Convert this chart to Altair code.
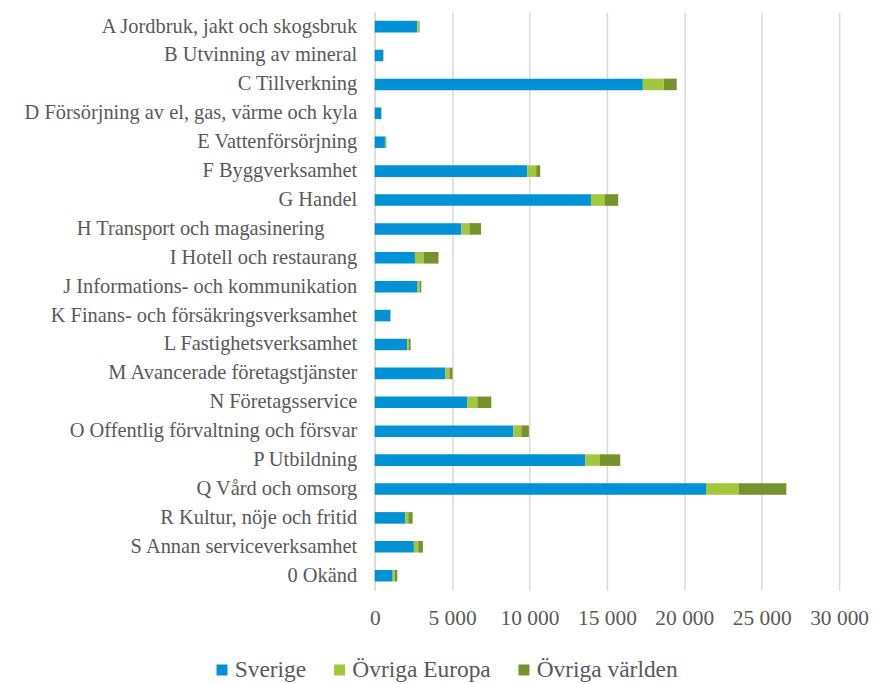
import altair as alt
import pandas as pd

categories = [
    "A Jordbruk, jakt och skogsbruk",
    "B Utvinning av mineral",
    "C Tillverkning",
    "D Försörjning av el, gas, värme och kyla",
    "E Vattenförsörjning",
    "F Byggverksamhet",
    "G Handel",
    "H Transport och magasinering",
    "I Hotell och restaurang",
    "J Informations- och kommunikation",
    "K Finans- och försäkringsverksamhet",
    "L Fastighetsverksamhet",
    "M Avancerade företagstjänster",
    "N Företagsservice",
    "O Offentlig förvaltning och försvar",
    "P Utbildning",
    "Q Vård och omsorg",
    "R Kultur, nöje och fritid",
    "S Annan serviceverksamhet",
    "0 Okänd",
]

sverige = [2750, 540, 17320, 410, 660, 9850, 13970, 5600, 2600, 2770,
           990, 2100, 4570, 5990, 8950, 13610, 21400, 1980, 2530, 1160]
ovriga_europa = [120, 20, 1350, 20, 60, 580, 900, 520, 560, 150,
                 30, 110, 260, 640, 520, 940, 2100, 190, 280, 130]
ovriga_varlden = [30, 15, 840, 15, 30, 260, 860, 750, 960, 90,
                  20, 110, 190, 900, 490, 1310, 3090, 280, 300, 170]

series = ["Sverige", "Övriga Europa", "Övriga världen"]
colors = ["#0092D5", "#A2C73B", "#76922C"]
tick_values = [0, 5000, 10000, 15000, 20000, 25000, 30000]

rows = []
for i, c in enumerate(categories):
    for j, (s, vals) in enumerate(zip(series, [sverige, ovriga_europa, ovriga_varlden])):
        rows.append({"kategori": c, "serie": s, "ordning": j, "antal": vals[i]})
df = pd.DataFrame(rows)

font = "Liberation Serif"

chart = alt.Chart(df).mark_bar().encode(
    y=alt.Y("kategori:N", sort=categories,
            scale=alt.Scale(paddingInner=0.6, paddingOuter=0.3),
            axis=alt.Axis(title=None, ticks=False, domain=True, domainColor="#d9d9d9",
                          domainWidth=1.5, labelFont=font, labelFontSize=20.5,
                          labelColor="#595959",
                          labelPadding={"condition": {"test": "indexof(datum.value, 'H Transport') == 0", "value": 51}, "value": 18},
                          labelLimit=400)),
    x=alt.X("antal:Q", stack="zero",
            scale=alt.Scale(domain=[0, 30000], nice=False),
            axis=alt.Axis(title=None, values=tick_values,
                          labelExpr="replace(format(datum.value, ','), ',', ' ')",
                          labelOverlap=False, labelFlush=False,
                          ticks=False, domain=False, grid=True, gridColor="#d9d9d9",
                          gridWidth=1.5, labelFont=font, labelFontSize=21.5,
                          labelColor="#595959", labelPadding=17)),
    color=alt.Color("serie:N", sort=series,
                    scale=alt.Scale(domain=series, range=colors),
                    legend=alt.Legend(title=None, orient="none", direction="horizontal",
                                      legendX=-165, legendY=648, padding=0,
                                      symbolType="square", symbolSize=121,
                                      symbolStrokeWidth=0, symbolOffset=0,
                                      labelFont=font, labelFontSize=23.5,
                                      labelColor="#595959", columnPadding=21,
                                      labelOffset=1)),
    order=alt.Order("ordning:Q"),
).properties(
    width=466,
    height=580,
    autosize=alt.AutoSizeParams(type="none"),
    padding={"left": 368, "top": 3, "right": 30, "bottom": 92},
).configure_view(stroke=None)

chart.save("out.html", embed_options={"renderer": "svg", "actions": False})
